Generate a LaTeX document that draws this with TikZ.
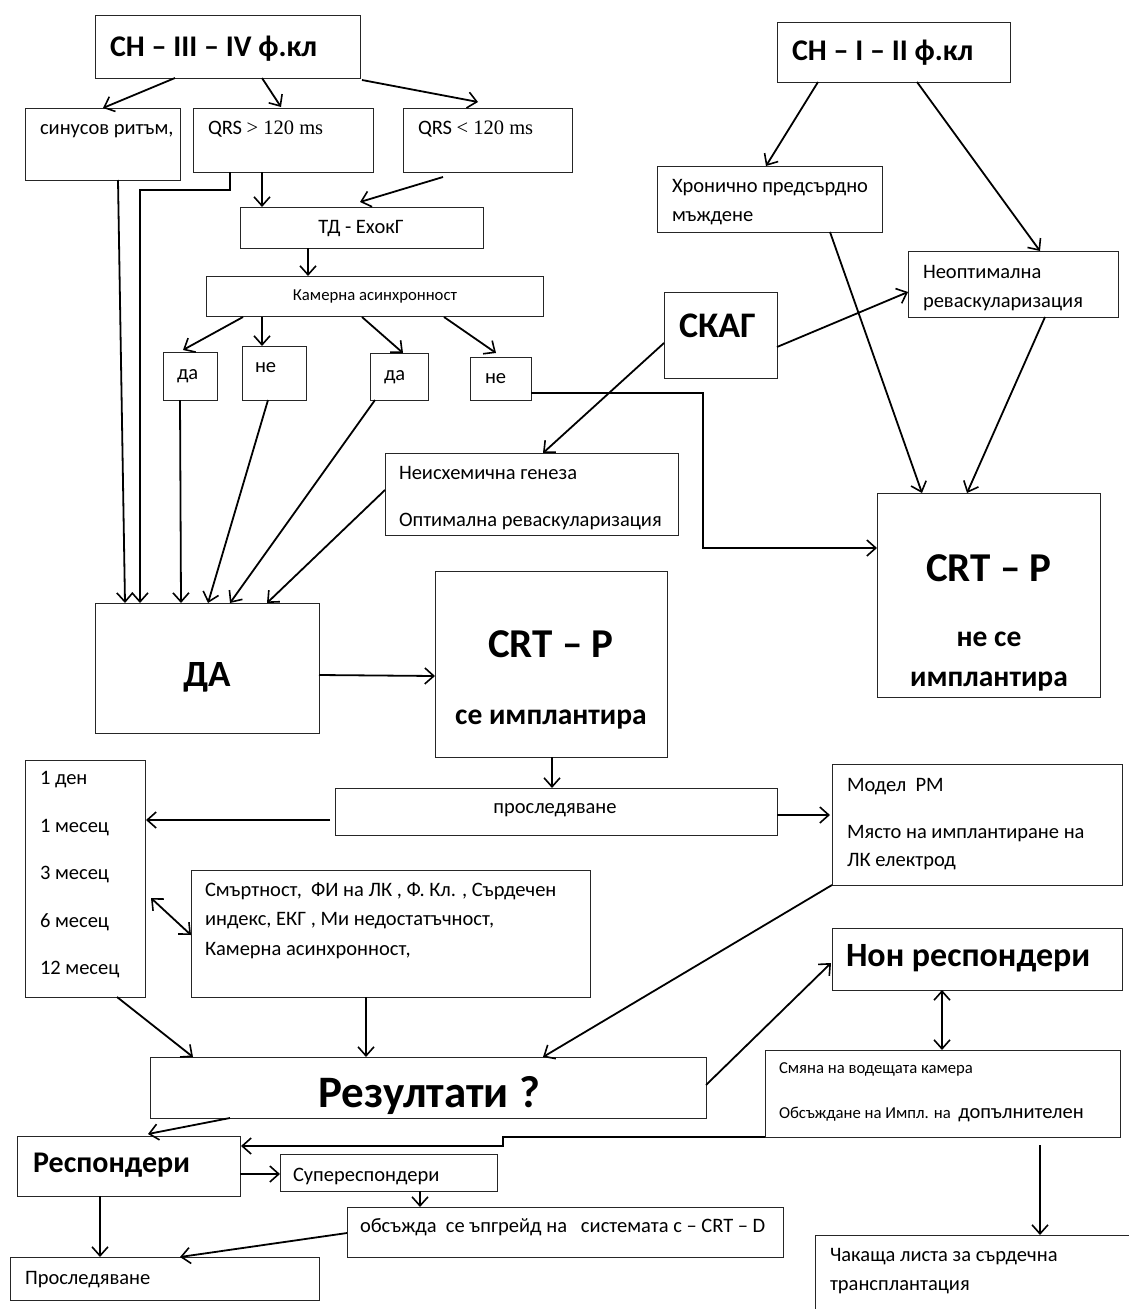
\documentclass[tikz,border=0pt]{standalone}
\usepackage{fontspec}
\setmainfont{Carlito}
\newfontfamily\tnr{Liberation Serif}
\usetikzlibrary{arrows.meta,calc}
\newcommand\bx[5]{\node[box,anchor=north west,minimum width={(#4-#2)*1pt},minimum height={(#5-#3)*1pt}] (#1) at (#2,#3) {};}
\begin{document}
\begin{tikzpicture}[x=1pt,y=-1pt,
 box/.style={draw=black!85, line width=0.9pt, inner sep=0pt, outer sep=0pt, rectangle},
 txt/.style={inner sep=0pt, outer sep=0pt, anchor=base west, font=\fontsize{20.5}{24}\selectfont},
 sm/.style={inner sep=0pt, outer sep=0pt, anchor=base west, font=\fontsize{16.7}{20}\selectfont},
 bt/.style={inner sep=0pt, outer sep=0pt, anchor=base, font=\fontsize{#1}{#1}\selectfont\bfseries},
 arr/.style={line width=1.8pt, -{Straight Barb[length=9pt,width=16pt,line width=1.6pt]}},
 darr/.style={line width=1.8pt, {Straight Barb[length=9pt,width=16pt,line width=1.6pt]}-{Straight Barb[length=9pt,width=16pt,line width=1.6pt]}},
]
\fill[white] (0,0) rectangle (1129,1309);
\useasboundingbox (0,0) rectangle (1129,1309);
\clip (0,0) rectangle (1129,1309);

% boxes
\bx{ch34}{95}{15}{360}{78}
\bx{ch12}{777}{22}{1010}{82}
\bx{sin}{25}{108}{180}{180}
\bx{qg}{193}{108}{373}{172}
\bx{ql}{403}{108}{572}{172}
\bx{td}{240}{207}{483}{248}
\bx{kam}{206}{276}{543}{316}
\bx{da1}{163}{352}{217}{400}
\bx{ne1}{242}{346}{306}{400}
\bx{da2}{370}{353}{428}{400}
\bx{ne2}{470}{357}{531}{400}
\bx{hron}{657}{166}{882}{232}
\bx{neopt}{908}{251}{1118}{317}
\bx{skag}{664}{292}{777}{378}
\bx{neish}{385}{453}{678}{535}
\bx{crtno}{877}{493}{1100}{697}
\bx{da}{95}{603}{319}{733}
\bx{crtyes}{435}{571}{667}{757}
\bx{prosl}{335}{788}{777}{835}
\bx{days}{25}{760}{145}{997}
\bx{smart}{191}{870}{590}{997}
\bx{model}{832}{764}{1122}{885}
\bx{non}{832}{928}{1122}{990}
\bx{smyana}{765}{1050}{1120}{1137}
\bx{rez}{150}{1057}{706}{1118}
\bx{resp}{17}{1136}{240}{1196}
\bx{super}{280}{1154}{497}{1191}
\bx{obs}{347}{1207}{783}{1257}
\bx{prosl2}{10}{1257}{319}{1300}
\bx{chak}{815}{1235}{1160}{1330}

% texts
\node[bt=30, anchor=base west] (t1) at (110,56) {СН – III – IV ф.кл};
\node[bt=30, anchor=base west] (t2) at (792,60) {СН – I – II ф.кл};
\node[txt] (t3) at (40,134) {синусов ритъм,};
\node[txt] (t4) at (208,134) {QRS {\tnr > 120 ms}};
\node[txt] (t5) at (418,134) {QRS {\tnr < 120 ms}};
\node[txt, anchor=base] (t6) at (361,233) {ТД - ЕхокГ};
\node[sm, anchor=base] (t7) at (375,300) {Камерна асинхронност};
\node[txt] (t8) at (177,379) {да};
\node[txt] (t9) at (255,372) {не};
\node[txt] (t10) at (384,380) {да};
\node[txt] (t11) at (485,383) {не};
\node[txt] (t12) at (672,192) {Хронично предсърдно};
\node[txt] (t13) at (672,221) {мъждене};
\node[txt] (t14) at (923,278) {Неоптимална};
\node[txt] (t15) at (923,307) {реваскуларизация};
\node[bt=36, anchor=base west] (t16) at (679,337) {СКАГ};
\node[txt] (t17) at (399,479) {Неисхемична генеза};
\node[txt] (t18) at (399,526) {Оптимална реваскуларизация};
\node[bt=41] (t19) at (989,581) {CRT – P};
\node[bt=29.5] (t20) at (989,646) {не се};
\node[bt=29.5] (t21) at (989,686) {имплантира};
\node[bt=37] (t22) at (207,686) {ДА};
\node[bt=41] (t23) at (551,657) {CRT – P};
\node[bt=29.5] (t24) at (551,724) {се имплантира};
\node[txt, anchor=base] (t25) at (555,813) {проследяване};
\node[txt] (t26) at (40,784) {1 ден};
\node[txt] (t27) at (40,832) {1 месец};
\node[txt] (t28) at (40,879) {3 месец};
\node[txt] (t29) at (40,927) {6 месец};
\node[txt] (t30) at (40,974) {12 месец};
\node[txt] (t31) at (205,896) {Смъртност,\ \ ФИ на ЛК , Ф. Кл. , Сърдечен};
\node[txt] (t32) at (205,925) {индекс, ЕКГ , Ми недостатъчност,};
\node[txt] (t33) at (205,955) {Камерна асинхронност,};
\node[txt] (t34) at (847,791) {Модел\ \ РМ};
\node[txt] (t35) at (847,838) {Място на имплантиране на};
\node[txt] (t36) at (847,866) {ЛК електрод};
\node[bt=34, anchor=base west] (t37) at (846,966) {Нон респондери};
\node[sm] (t38) at (779,1073) {Смяна на водещата камера};
\node[sm] (t39) at (779,1118) {Обсъждане на Импл. на\ \ {\fontsize{20.5}{24}\selectfont допълнителен}};
\node[bt=45] (t40) at (429,1107) {Резултати ?};
\node[bt=30, anchor=base west] (t41) at (33,1172) {Респондери};
\node[txt] (t42) at (293,1181) {Супереспондери};
\node[txt] (t43) at (360,1232) {обсъжда\ \ се ъпгрейд на\ \ \ системата с – CRT – D};
\node[txt] (t44) at (25,1284) {Проследяване};
\node[txt] (t45) at (830,1261) {Чакаща листа за сърдечна};
\node[txt] (t46) at (830,1290) {трансплантация};

% connectors
\draw[arr] ($(ch34.north west)+(80,63)$) -- ($(sin.north west)+(78,0)$);
\draw[arr] ($(ch34.north west)+(167,63)$) -- ($(qg.north west)+(88,-1)$);
\draw[arr] ($(ch34.north west)+(267,65)$) -- ($(ql.north west)+(75,-6)$);
\draw[arr] ($(sin.north west)+(93,72)$) -- ($(da.north west)+(30,0)$);
\draw[arr] ($(qg.north west)+(37,64)$) -- ++(0,18) -| ($(da.north west)+(45,0)$);
\draw[arr] ($(qg.north west)+(69,64)$) -- ($(td.north west)+(22,0)$);
\draw[arr] ($(ql.north west)+(40,69)$) -- ($(td.north west)+(120,-5)$);
\draw[arr] ($(td.north west)+(68,41)$) -- ($(kam.north west)+(102,0)$);
\draw[arr] ($(kam.north west)+(37,41)$) -- ($(da1.north west)+(20,-2)$);
\draw[arr] ($(kam.north west)+(56,41)$) -- ($(ne1.north west)+(20,0)$);
\draw[arr] ($(kam.north west)+(156,41)$) -- ($(da2.north west)+(33,0)$);
\draw[arr] ($(kam.north west)+(238,41)$) -- ($(ne2.north west)+(26,-4)$);
\draw[arr] ($(da1.north west)+(17,48)$) -- ($(da.north west)+(86,0)$);
\draw[arr] ($(ne1.north west)+(26,54)$) -- ($(da.north west)+(113,0)$);
\draw[arr] ($(da2.north west)+(5,47)$) -- ($(da.north west)+(135,0)$);
\draw[arr] ($(neish.north west)+(0,37)$) -- ($(da.north west)+(172,0)$);
\draw[arr] ($(ne2.north west)+(61,36)$) -- ++(172,0) |- ($(crtno.north west)+(0,55)$);
\draw[arr] ($(skag.north west)+(0,51)$) -- ($(neish.north west)+(158,0)$);
\draw[arr] ($(skag.north west)+(113,55)$) -- ($(neopt.north west)+(0,41)$);
\draw[arr] ($(ch12.north west)+(41,60)$) -- ($(hron.north west)+(109,0)$);
\draw[arr] ($(ch12.north west)+(140,60)$) -- ($(neopt.north west)+(132,0)$);
\draw[arr] ($(hron.north west)+(173,66)$) -- ($(crtno.north west)+(45,0)$);
\draw[arr] ($(neopt.north west)+(137,66)$) -- ($(crtno.north west)+(90,0)$);
\draw[arr] ($(da.north west)+(224,72)$) -- ($(crtyes.north west)+(0,105)$);
\draw[arr] ($(crtyes.north west)+(117,186)$) -- ($(prosl.north west)+(217,0)$);
\draw[arr] ($(prosl.north west)+(-5,32)$) -- ($(days.north west)+(121,60)$);
\draw[arr] ($(prosl.north west)+(442,27)$) -- ($(model.north west)+(-2,51)$);
\draw[darr] ($(days.north west)+(126,138)$) -- ($(smart.north west)+(0,65)$);
\draw[arr] ($(days.north west)+(92,237)$) -- ($(rez.north west)+(43,0)$);
\draw[arr] ($(smart.north west)+(175,127)$) -- ($(rez.north west)+(216,0)$);
\draw[arr] ($(model.north west)+(0,121)$) -- ($(rez.north west)+(393,0)$);
\draw[arr] ($(rez.north west)+(556,28)$) -- ($(non.north west)+(-1,35)$);
\draw[darr] ($(non.north west)+(110,62)$) -- ($(smyana.north west)+(177,0)$);
\draw[arr] ($(smyana.north west)+(275,95)$) -- ($(chak.north west)+(225,0)$);
\draw[arr] ($(smyana.north west)+(0,87)$) -- ++(-262,0) -- ++(0,9) -- ($(resp.north west)+(224,10)$);
\draw[arr] ($(rez.north west)+(80,61)$) -- ($(resp.north west)+(131,-2)$);
\draw[arr] ($(resp.north west)+(223,38)$) -- ($(super.north west)+(0,20)$);
\draw[arr] ($(resp.north west)+(83,60)$) -- ($(prosl2.north west)+(90,0)$);
\draw[arr] ($(super.north west)+(140,37)$) -- ($(obs.north west)+(73,0)$);
\draw[arr] ($(obs.north west)+(0,26)$) -- ($(prosl2.north west)+(170,0)$);
\end{tikzpicture}
\end{document}
